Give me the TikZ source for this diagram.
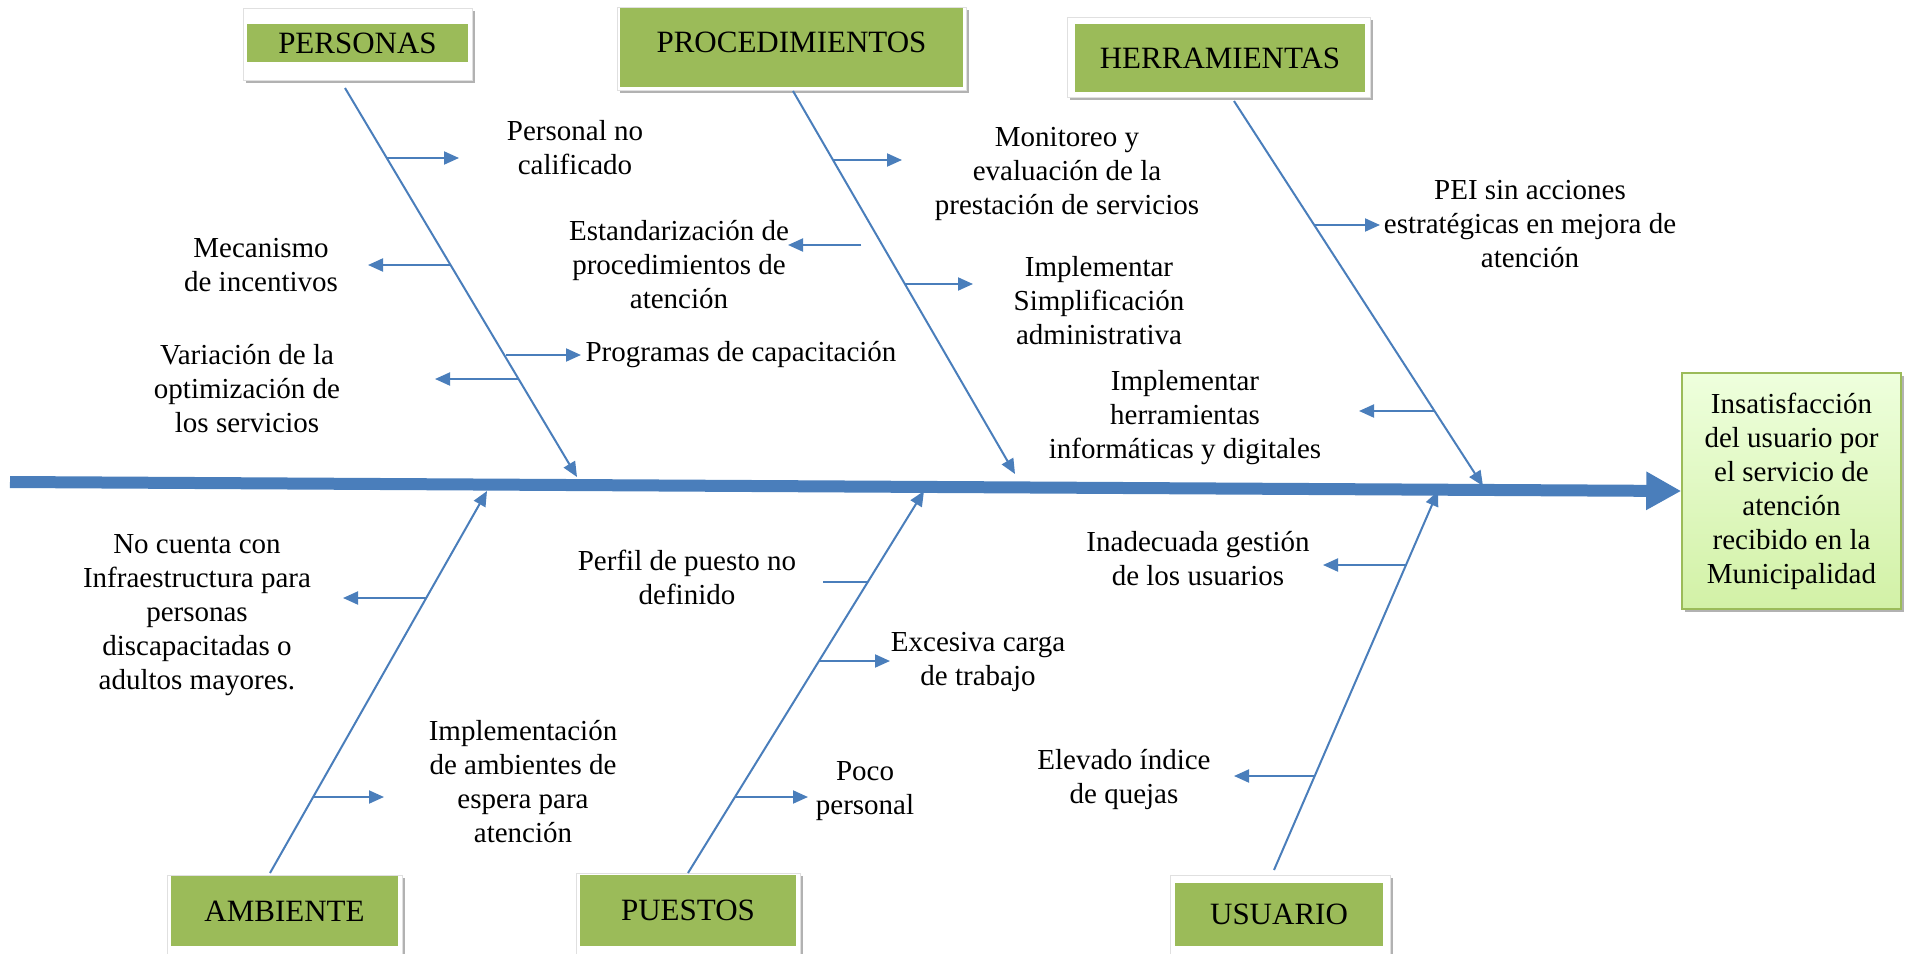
\documentclass[tikz,border=0pt]{standalone}
\usepackage{fontspec}
\setmainfont{Liberation Serif}
\usetikzlibrary{arrows.meta,shadows}
\definecolor{bone}{HTML}{4A7EBB}
\definecolor{catgreen}{HTML}{9BBB59}
\definecolor{efftop}{HTML}{EEFFDD}
\definecolor{effbot}{HTML}{D2F1A6}
\definecolor{effborder}{HTML}{9BBB59}
\begin{document}
\begin{tikzpicture}[x=1pt,y=-1pt,
  outerbox/.style={draw=black!12, line width=0.6pt, fill=white, inner sep=0pt,
    drop shadow={shadow xshift=3pt,shadow yshift=-3pt,fill=black,opacity=0.3}},
  catbox/.style={fill=catgreen, inner sep=0pt, text=black, font=\fontsize{31}{36}\selectfont},
  txt/.style={align=center, text=black, inner sep=0pt, font=\fontsize{29}{34}\selectfont},
  bonearrow/.style={draw=bone, line width=2pt, -{Triangle[length=15pt,width=13pt]}, fill=bone},
  sub/.style={draw=bone, line width=2pt, -{Triangle[length=15pt,width=13pt]}, fill=bone},
  plainsub/.style={draw=bone, line width=2pt},
  spine/.style={draw=bone, line width=12pt, -{Triangle[length=35pt,width=36pt]}, fill=bone}
]
\useasboundingbox (0,0) rectangle (1906,953);

% effect box
\node[draw=effborder, line width=1.5pt, top color=efftop, bottom color=effbot,
  minimum width=219pt, minimum height=236pt, inner sep=0pt, txt,
  drop shadow={shadow xshift=3pt,shadow yshift=-3pt,fill=black,opacity=0.3}]
  (eff) at (1791.5,491) {Insatisfacción\\del usuario por\\el servicio de\\atención\\recibido en la\\Municipalidad};

% category boxes
\node[outerbox, minimum width=229pt, minimum height=72pt] (perO) at (357.5,44) {};
\node[catbox, minimum width=221pt, minimum height=38pt] (per) at (357.5,43) {PERSONAS};
\node[outerbox, minimum width=349pt, minimum height=83pt] (proO) at (791.5,48.5) {};
\node[catbox, minimum width=343pt, minimum height=79pt, text depth=12pt, text height=22pt] (pro) at (791.5,47.5) {PROCEDIMIENTOS};
\node[outerbox, minimum width=303pt, minimum height=80pt] (herO) at (1218.5,57) {};
\node[catbox, minimum width=290pt, minimum height=68pt] (her) at (1220,58) {HERRAMIENTAS};
\node[outerbox, minimum width=235pt, minimum height=80pt] (ambO) at (284.5,915) {};
\node[catbox, minimum width=227pt, minimum height=70pt] (amb) at (284.5,911) {AMBIENTE};
\node[outerbox, minimum width=224pt, minimum height=82pt] (pueO) at (688,914) {};
\node[catbox, minimum width=216pt, minimum height=71pt] (pue) at (688,910.5) {PUESTOS};
\node[outerbox, minimum width=220pt, minimum height=80pt] (usuO) at (1280,915) {};
\node[catbox, minimum width=208pt, minimum height=63pt] (usu) at (1279,914.5) {USUARIO};

% spine
\coordinate (tail) at (10,482);
\draw[spine] (tail) -- (eff.west);

% bones
\coordinate (b1s) at (345,88);   \coordinate (b1e) at (577,477);
\coordinate (b2s) at (793,91);   \coordinate (b2e) at (1015,474);
\coordinate (b3s) at (1234,101); \coordinate (b3e) at (1483,486);
\coordinate (b4s) at (270,873);  \coordinate (b4e) at (487,491);
\coordinate (b5s) at (688,873);  \coordinate (b5e) at (924,491);
\coordinate (b6s) at (1274,870); \coordinate (b6e) at (1438,491);
\draw[bonearrow] (b1s) -- (b1e);
\draw[bonearrow] (b2s) -- (b2e);
\draw[bonearrow] (b3s) -- (b3e);
\draw[bonearrow] (b4s) -- (b4e);
\draw[bonearrow] (b5s) -- (b5e);
\draw[bonearrow] (b6s) -- (b6e);

% sub-cause arrows
\coordinate (s1a) at (387,158);  \coordinate (s1b) at (459,158);
\coordinate (s2a) at (451,265);  \coordinate (s2b) at (368,265);
\coordinate (s3a) at (519,379);  \coordinate (s3b) at (435,379);
\coordinate (s4a) at (506,355);  \coordinate (s4b) at (581,355);
\coordinate (s5a) at (833,160);  \coordinate (s5b) at (902,160);
\coordinate (s6a) at (861,245);  \coordinate (s6b) at (788,245);
\coordinate (s7a) at (905,284);  \coordinate (s7b) at (973,284);
\coordinate (s8a) at (1314,225); \coordinate (s8b) at (1380,225);
\coordinate (s9a) at (1434,411); \coordinate (s9b) at (1359,411);
\coordinate (s10a) at (426,598); \coordinate (s10b) at (343,598);
\coordinate (s11a) at (313,797); \coordinate (s11b) at (384,797);
\coordinate (s12a) at (868,582); \coordinate (s12b) at (823,582);
\coordinate (s13a) at (819,661); \coordinate (s13b) at (890,661);
\coordinate (s14a) at (735,797); \coordinate (s14b) at (808,797);
\coordinate (s15a) at (1406,565); \coordinate (s15b) at (1323,565);
\coordinate (s16a) at (1315,776); \coordinate (s16b) at (1234,776);
\foreach \i in {1,...,11,13,14,15,16}{\draw[sub] (s\i a) -- (s\i b);}
\draw[plainsub] (s12a) -- (s12b);

% texts
\node[txt] (t1) at (575,148) {Personal no\\calificado};
\node[txt] (t2) at (261,265) {Mecanismo\\de incentivos};
\node[txt] (t3) at (247,389) {Variación de la\\optimización de\\los servicios};
\node[txt] (t4) at (741,355) {Programas de capacitación};
\node[txt] (t5) at (1067,174) {Monitoreo y\\evaluación de la\\prestación de servicios};
\node[txt] (t6) at (679,265) {Estandarización de\\procedimientos de\\atención};
\node[txt] (t7) at (1099,301) {Implementar\\Simplificación\\administrativa};
\node[txt] (t8) at (1530,224) {PEI sin acciones\\estratégicas en mejora de\\atención};
\node[txt] (t9) at (1185,418) {Implementar\\herramientas\\informáticas y digitales};
\node[txt] (t10) at (197,615) {No cuenta con\\Infraestructura para\\personas\\discapacitadas o\\adultos mayores.};
\node[txt] (t11) at (523,782) {Implementación\\de ambientes de\\espera para\\atención};
\node[txt] (t12) at (687,577) {Perfil de puesto no\\definido};
\node[txt] (t13) at (978,662) {Excesiva carga\\de trabajo};
\node[txt] (t14) at (865,791) {Poco\\personal};
\node[txt] (t15) at (1198,559) {Inadecuada gestión\\de los usuarios};
\node[txt] (t16) at (1124,779) {Elevado índice\\de quejas};
\end{tikzpicture}
\end{document}
